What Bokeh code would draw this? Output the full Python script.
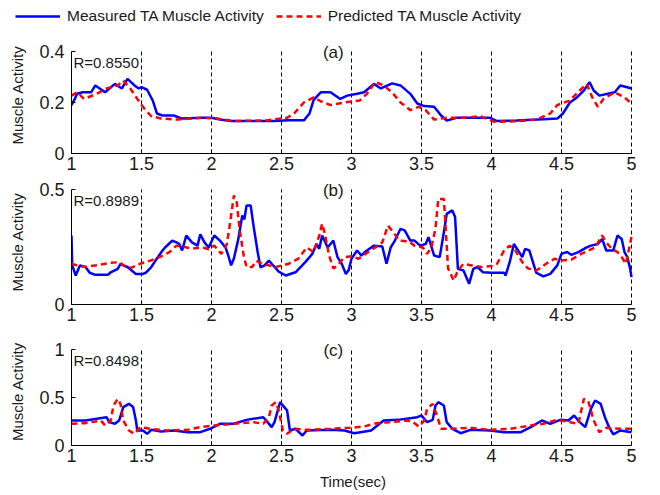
from bokeh.plotting import figure
from bokeh.models import Range1d, FixedTicker, Label, Legend, LegendItem
from bokeh.layouts import column
from bokeh.embed import file_html
from bokeh.resources import INLINE

# ---------------- data ----------------
x_ticks = [1, 1.5, 2, 2.5, 3, 3.5, 4, 4.5, 5]
x_tick_labels = ["1", "1.5", "2", "2.5", "3", "3.5", "4", "4.5", "5"]

series_names = ["Measured TA Muscle Activity", "Predicted TA Muscle Activity"]
panel_titles = ["(a)", "(b)", "(c)"]
r_values = ["R=0.8550", "R=0.8989", "R=0.8498"]

ya_ticks = [0, 0.2, 0.4]
ya_labels = ["0", "0.2", "0.4"]
yb_ticks = [0, 0.5]
yb_labels = ["0", "0.5"]
yc_ticks = [0, 0.5, 1]
yc_labels = ["0", "0.5", "1"]

# panel (a)
ta_meas = [1.00, 1.02, 1.04, 1.08, 1.14, 1.17, 1.24, 1.31, 1.36, 1.40, 1.45, 1.48, 1.50, 1.54, 1.58,
           1.61, 1.65, 1.73, 1.79, 1.93, 2.00, 2.06, 2.14, 2.30, 2.45, 2.55, 2.66, 2.70, 2.73, 2.78,
           2.85, 2.92, 2.97, 3.04, 3.09, 3.16, 3.21, 3.29, 3.35, 3.42, 3.47, 3.52, 3.59, 3.64, 3.68,
           3.75, 3.90, 3.99, 4.04, 4.18, 4.37, 4.47, 4.51, 4.56, 4.61, 4.66, 4.70, 4.73, 4.77, 4.83,
           4.88, 4.92, 4.97, 5.00]
a_meas = [0.190, 0.210, 0.234, 0.240, 0.240, 0.267, 0.240, 0.273, 0.255, 0.293, 0.267, 0.255, 0.260, 0.250, 0.208,
          0.157, 0.149, 0.149, 0.137, 0.140, 0.140, 0.133, 0.127, 0.127, 0.127, 0.130, 0.130, 0.157, 0.210, 0.240,
          0.240, 0.214, 0.227, 0.234, 0.240, 0.273, 0.255, 0.275, 0.267, 0.234, 0.196, 0.186, 0.183, 0.149, 0.129,
          0.140, 0.140, 0.140, 0.127, 0.129, 0.134, 0.137, 0.157, 0.200, 0.220, 0.247, 0.280, 0.247, 0.227, 0.234,
          0.240, 0.267, 0.260, 0.255]
ta_pred = [1.00, 1.04, 1.09, 1.18, 1.25, 1.33, 1.37, 1.42, 1.47, 1.52, 1.57, 1.64, 1.76, 1.93, 2.04,
           2.16, 2.40, 2.54, 2.59, 2.66, 2.73, 2.78, 2.85, 2.95, 3.06, 3.11, 3.17, 3.23, 3.29, 3.35,
           3.42, 3.48, 3.53, 3.59, 3.68, 3.80, 3.92, 4.02, 4.16, 4.32, 4.42, 4.47, 4.56, 4.63, 4.68,
           4.72, 4.76, 4.80, 4.88, 4.95, 5.00]
a_pred = [0.227, 0.240, 0.214, 0.234, 0.255, 0.267, 0.286, 0.255, 0.214, 0.176, 0.146, 0.137, 0.133, 0.140, 0.137,
          0.127, 0.130, 0.140, 0.157, 0.200, 0.220, 0.205, 0.190, 0.200, 0.208, 0.234, 0.280, 0.267, 0.240, 0.200,
          0.170, 0.183, 0.170, 0.133, 0.140, 0.140, 0.146, 0.124, 0.126, 0.133, 0.157, 0.190, 0.208, 0.247, 0.273,
          0.220, 0.183, 0.214, 0.240, 0.220, 0.196]

# panel (b)
tb_meas = [1.00, 1.005, 1.03, 1.06, 1.10, 1.13, 1.17, 1.26, 1.28, 1.33, 1.35, 1.37, 1.40, 1.43, 1.46,
           1.51, 1.53, 1.57, 1.60, 1.65, 1.67, 1.72, 1.75, 1.77, 1.79, 1.82, 1.86, 1.90, 1.92, 1.95,
           1.98, 2.02, 2.06, 2.10, 2.12, 2.14, 2.16, 2.19, 2.22, 2.235, 2.25, 2.28, 2.30, 2.33, 2.35,
           2.38, 2.41, 2.43, 2.48, 2.53, 2.60, 2.67, 2.72, 2.75, 2.77, 2.79, 2.83, 2.87, 2.90, 2.93,
           2.96, 2.98, 3.00, 3.04, 3.07, 3.11, 3.16, 3.22, 3.25, 3.28, 3.31, 3.35, 3.38, 3.42, 3.45,
           3.49, 3.53, 3.55, 3.59, 3.63, 3.66, 3.68, 3.72, 3.74, 3.76, 3.80, 3.84, 3.87, 3.90, 3.94,
           4.00, 4.09, 4.10, 4.13, 4.16, 4.19, 4.22, 4.24, 4.27, 4.30, 4.32, 4.37, 4.42, 4.47, 4.50,
           4.54, 4.57, 4.62, 4.68, 4.71, 4.76, 4.79, 4.82, 4.87, 4.90, 4.93, 4.95, 4.97, 4.99, 5.00]
b_meas = [0.300, 0.170, 0.126, 0.170, 0.163, 0.138, 0.129, 0.129, 0.140, 0.155, 0.177, 0.170, 0.163, 0.148, 0.133,
          0.133, 0.138, 0.163, 0.191, 0.235, 0.249, 0.278, 0.270, 0.263, 0.235, 0.300, 0.270, 0.256, 0.305, 0.270,
          0.248, 0.300, 0.278, 0.248, 0.213, 0.170, 0.200, 0.280, 0.387, 0.370, 0.430, 0.430, 0.343, 0.227, 0.162,
          0.170, 0.191, 0.177, 0.143, 0.126, 0.140, 0.184, 0.220, 0.264, 0.242, 0.300, 0.248, 0.278, 0.206, 0.177,
          0.133, 0.150, 0.199, 0.235, 0.213, 0.235, 0.256, 0.252, 0.177, 0.248, 0.278, 0.329, 0.322, 0.278, 0.278,
          0.256, 0.263, 0.293, 0.213, 0.206, 0.314, 0.394, 0.409, 0.380, 0.155, 0.148, 0.090, 0.155, 0.163, 0.140,
          0.138, 0.138, 0.126, 0.184, 0.263, 0.235, 0.206, 0.242, 0.235, 0.177, 0.138, 0.122, 0.133, 0.170, 0.220,
          0.228, 0.216, 0.228, 0.248, 0.256, 0.263, 0.285, 0.235, 0.235, 0.300, 0.285, 0.228, 0.206, 0.157, 0.119]
tb_pred = [1.00, 1.04, 1.10, 1.17, 1.28, 1.34, 1.39, 1.43, 1.49, 1.56, 1.63, 1.70, 1.75, 1.79, 1.86,
           1.94, 1.98, 2.02, 2.07, 2.11, 2.13, 2.16, 2.18, 2.20, 2.23, 2.25, 2.29, 2.32, 2.36, 2.46,
           2.55, 2.62, 2.68, 2.73, 2.77, 2.79, 2.81, 2.84, 2.87, 2.90, 2.95, 3.00, 3.05, 3.12, 3.17,
           3.22, 3.26, 3.30, 3.34, 3.41, 3.45, 3.51, 3.54, 3.57, 3.60, 3.62, 3.66, 3.67, 3.69, 3.73,
           3.76, 3.80, 3.86, 3.93, 4.00, 4.04, 4.09, 4.13, 4.17, 4.22, 4.26, 4.32, 4.39, 4.45, 4.50,
           4.57, 4.64, 4.74, 4.79, 4.82, 4.86, 4.90, 4.93, 4.96, 4.98, 5.00]
b_pred = [0.177, 0.170, 0.163, 0.170, 0.181, 0.184, 0.163, 0.160, 0.177, 0.190, 0.206, 0.228, 0.256, 0.252, 0.243,
          0.248, 0.240, 0.256, 0.220, 0.263, 0.343, 0.474, 0.446, 0.330, 0.213, 0.163, 0.163, 0.190, 0.177, 0.163,
          0.177, 0.199, 0.248, 0.228, 0.300, 0.351, 0.307, 0.213, 0.157, 0.170, 0.206, 0.210, 0.199, 0.228, 0.248,
          0.270, 0.343, 0.314, 0.278, 0.274, 0.256, 0.248, 0.220, 0.248, 0.330, 0.459, 0.459, 0.357, 0.157, 0.104,
          0.148, 0.177, 0.170, 0.163, 0.167, 0.177, 0.235, 0.256, 0.235, 0.184, 0.157, 0.148, 0.177, 0.199, 0.191,
          0.195, 0.220, 0.248, 0.300, 0.270, 0.242, 0.228, 0.206, 0.177, 0.235, 0.293]

# panel (c)
tc_meas = [1.00, 1.10, 1.18, 1.25, 1.27, 1.31, 1.34, 1.37, 1.41, 1.44, 1.46, 1.47, 1.51, 1.54, 1.57,
           1.64, 1.73, 1.83, 1.92, 1.99, 2.06, 2.16, 2.25, 2.37, 2.40, 2.43, 2.45, 2.49, 2.52, 2.54,
           2.56, 2.60, 2.65, 2.68, 2.85, 2.95, 3.02, 3.14, 3.23, 3.33, 3.42, 3.47, 3.50, 3.54, 3.58,
           3.60, 3.62, 3.66, 3.68, 3.72, 3.78, 3.85, 3.99, 4.09, 4.21, 4.30, 4.36, 4.42, 4.49, 4.55,
           4.59, 4.63, 4.67, 4.71, 4.74, 4.78, 4.81, 4.84, 4.87, 4.92, 5.00]
c_meas = [0.260, 0.260, 0.278, 0.295, 0.243, 0.226, 0.260, 0.400, 0.434, 0.400, 0.260, 0.156, 0.156, 0.122, 0.163,
          0.146, 0.156, 0.139, 0.139, 0.174, 0.226, 0.226, 0.267, 0.295, 0.243, 0.191, 0.243, 0.451, 0.400, 0.365,
          0.156, 0.174, 0.104, 0.156, 0.163, 0.156, 0.128, 0.156, 0.260, 0.267, 0.285, 0.295, 0.313, 0.243, 0.267,
          0.417, 0.451, 0.417, 0.243, 0.174, 0.128, 0.163, 0.156, 0.139, 0.139, 0.208, 0.260, 0.226, 0.267, 0.260,
          0.313, 0.243, 0.191, 0.382, 0.469, 0.434, 0.295, 0.191, 0.115, 0.156, 0.139]
tc_pred = [1.00, 1.10, 1.21, 1.24, 1.28, 1.30, 1.33, 1.35, 1.37, 1.41, 1.45, 1.49, 1.56, 1.68, 1.83,
           1.92, 2.02, 2.16, 2.30, 2.37, 2.41, 2.43, 2.46, 2.48, 2.51, 2.54, 2.59, 2.68, 2.85, 2.99,
           3.09, 3.18, 3.28, 3.40, 3.44, 3.48, 3.52, 3.54, 3.58, 3.61, 3.64, 3.71, 3.85, 3.99, 4.13,
           4.28, 4.37, 4.47, 4.56, 4.62, 4.66, 4.69, 4.73, 4.77, 4.82, 4.92, 5.00]
c_pred = [0.226, 0.233, 0.260, 0.208, 0.260, 0.417, 0.486, 0.434, 0.260, 0.156, 0.122, 0.191, 0.174, 0.156, 0.163,
          0.191, 0.208, 0.226, 0.243, 0.226, 0.295, 0.417, 0.451, 0.365, 0.156, 0.122, 0.174, 0.163, 0.174, 0.184,
          0.198, 0.233, 0.243, 0.260, 0.243, 0.198, 0.260, 0.382, 0.434, 0.313, 0.174, 0.174, 0.184, 0.163, 0.174,
          0.208, 0.226, 0.267, 0.243, 0.226, 0.486, 0.469, 0.260, 0.139, 0.184, 0.174, 0.174]

# ---------------- styling / layout ----------------
FONT = "Liberation Sans"
TEXT_COLOR = "#1a1a1a"
BLUE = "#0000ff"
RED = "#ff0000"
DASH = "6 4"
W = 655
BORDER_L = 71
DATA_W = 560          # pixels for x in [1, 5]
PAD_R = 3             # extra pixels right of x = 5 so the last grid line shows
X_END = 5 + 4 * PAD_R / DATA_W
BORDER_R = W - BORDER_L - DATA_W - PAD_R


def make_panel(t_m, v_m, t_p, v_p, y_end, y_ticks, y_labels, title, r_text,
               b_top, head_px, data_px, b_bottom, xlabel=None):
    height = b_top + head_px + data_px + b_bottom
    y_top = y_end * (data_px + head_px) / data_px
    p = figure(width=W, height=height, output_backend="svg", toolbar_location=None,
               x_range=Range1d(1, X_END), y_range=Range1d(0, y_top),
               min_border_left=BORDER_L, min_border_right=BORDER_R,
               min_border_top=b_top, min_border_bottom=b_bottom)
    p.outline_line_color = None
    p.background_fill_color = "white"
    p.border_fill_color = "white"
    p.xgrid.visible = False
    p.ygrid.visible = False

    # dashed vertical grid lines at the x ticks, spanning the y axis extent
    p.segment(x0=x_ticks[1:], y0=[0] * (len(x_ticks) - 1), x1=x_ticks[1:],
              y1=[y_end] * (len(x_ticks) - 1), line_color="black",
              line_width=1, line_dash="4 3")

    p.line(t_m, v_m, line_color=BLUE, line_width=2.5)
    p.line(t_p, v_p, line_color=RED, line_width=2.5, line_dash=DASH)

    p.xaxis.ticker = FixedTicker(ticks=x_ticks)
    p.xaxis.major_label_overrides = dict(zip(x_ticks, x_tick_labels))
    p.xaxis.bounds = (1, 5)
    p.yaxis.ticker = FixedTicker(ticks=y_ticks)
    p.yaxis.major_label_overrides = dict(zip(y_ticks, y_labels))
    p.yaxis.bounds = (0, y_end)
    for ax in (p.xaxis[0], p.yaxis[0]):
        ax.axis_line_color = "black"
        ax.axis_line_width = 1
        ax.major_tick_in = 4
        ax.major_tick_out = 0
        ax.minor_tick_line_color = None
        ax.major_tick_line_color = "black"
        ax.major_label_text_font = FONT
        ax.major_label_text_font_size = "18px"
        ax.major_label_text_color = TEXT_COLOR
    p.xaxis.major_label_standoff = 3
    p.yaxis.major_label_standoff = 7

    p.yaxis.axis_label = "Muscle Activity"
    p.yaxis.axis_label_text_font = FONT
    p.yaxis.axis_label_text_font_style = "normal"
    p.yaxis.axis_label_text_font_size = "15px"
    p.yaxis.axis_label_text_color = TEXT_COLOR
    p.yaxis.axis_label_standoff = 10
    if xlabel:
        p.xaxis.axis_label = xlabel
        p.xaxis.axis_label_text_font = FONT
        p.xaxis.axis_label_text_font_style = "normal"
        p.xaxis.axis_label_text_font_size = "15px"
        p.xaxis.axis_label_text_color = TEXT_COLOR
        p.xaxis.axis_label_standoff = 8

    p.add_layout(Label(x=2.87, y=y_end, text=title, text_align="center",
                       text_baseline="middle", y_offset=-1, text_font=FONT,
                       text_font_size="17px", text_color=TEXT_COLOR))
    p.add_layout(Label(x=1, y=y_end, text=r_text, text_align="left",
                       text_baseline="top", x_offset=2, y_offset=-2,
                       text_font=FONT, text_font_size="15px",
                       text_color=TEXT_COLOR))
    return p


# legend strip on top; its frame spans the full width (no frame alignment)
pl = figure(width=W, height=28, output_backend="svg", toolbar_location=None,
            x_axis_type=None, y_axis_type=None,
            x_range=Range1d(0, 1), y_range=Range1d(0, 1),
            min_border_left=0, min_border_right=0, min_border_top=0, min_border_bottom=0)
pl.frame_align = False
pl.outline_line_color = None
pl.xgrid.visible = False
pl.ygrid.visible = False
lg1 = pl.line(ta_meas, a_meas, line_color=BLUE, line_width=2.5, visible=False)
lg2 = pl.line(ta_pred, a_pred, line_color=RED, line_width=2.5, line_dash=DASH, visible=False)
legend = Legend(items=[LegendItem(label=series_names[0], renderers=[lg1]),
                       LegendItem(label=series_names[1], renderers=[lg2])],
                orientation="horizontal", location=(15, 3),
                border_line_color=None, background_fill_alpha=0,
                inactive_fill_alpha=0,
                padding=0, margin=0, spacing=12, glyph_width=45, glyph_height=18,
                label_standoff=7, label_text_font=FONT,
                label_text_font_size="15.5px", label_text_color=TEXT_COLOR,
                label_height=18)
pl.add_layout(legend, "center")

pa = make_panel(ta_meas, a_meas, ta_pred, a_pred, 0.4, ya_ticks, ya_labels,
                panel_titles[0], r_values[0], 8, 15, 102, 23)
pb = make_panel(tb_meas, b_meas, tb_pred, b_pred, 0.5, yb_ticks, yb_labels,
                panel_titles[1], r_values[1], 3, 10, 115, 23)
pc = make_panel(tc_meas, c_meas, tc_pred, c_pred, 1, yc_ticks, yc_labels,
                panel_titles[2], r_values[2], 10, 12, 96, 48, xlabel="Time(sec)")

layout = column(pl, pa, pb, pc, spacing=0)

with open("out.html", "w") as f:
    f.write(file_html(layout, INLINE))
